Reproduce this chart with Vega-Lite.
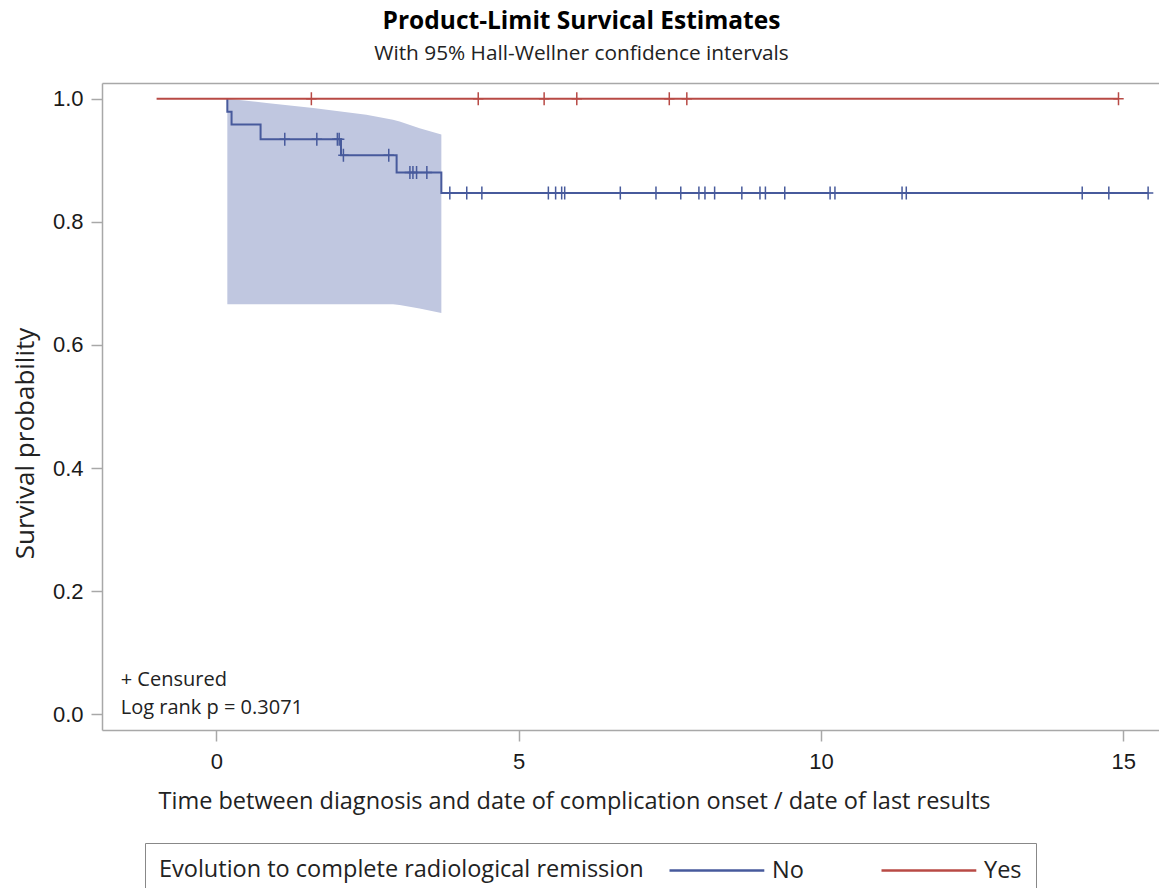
{
  "$schema": "https://vega.github.io/schema/vega-lite/v6.json",
  "width": 1057,
  "height": 647,
  "autosize": {"type": "none"},
  "padding": {"left": 102, "top": 83, "right": 0, "bottom": 158},
  "background": "white",
  "config": {"view": {"stroke": null}, "font": "Open Sans"},
  "title": {
    "text": "Product-Limit Survical Estimates",
    "subtitle": "With 95% Hall-Wellner confidence intervals",
    "anchor": "middle",
    "frame": "group",
    "dx": -49,
    "offset": 18.5,
    "font": "Open Sans",
    "fontSize": 24.5,
    "fontWeight": "bold",
    "color": "#000000",
    "subtitleFont": "Open Sans",
    "subtitleFontSize": 20.8,
    "subtitleColor": "#222222",
    "subtitlePadding": 9
  },
  "datasets": {
    "curves": [
      {"group": "No", "i": 0, "t": 0.18, "s": 1.0},
      {"group": "No", "i": 1, "t": 0.18, "s": 0.979},
      {"group": "No", "i": 2, "t": 0.25, "s": 0.958},
      {"group": "No", "i": 3, "t": 0.73, "s": 0.934},
      {"group": "No", "i": 4, "t": 2.06, "s": 0.908},
      {"group": "No", "i": 5, "t": 2.98, "s": 0.880},
      {"group": "No", "i": 6, "t": 3.72, "s": 0.847},
      {"group": "No", "i": 7, "t": 15.41, "s": 0.847},
      {"group": "Yes", "i": 0, "t": -0.99, "s": 1.0},
      {"group": "Yes", "i": 1, "t": 14.92, "s": 1.0}
    ],
    "censor": [
      {"group": "No", "t": 1.13, "s": 0.934},
      {"group": "No", "t": 1.66, "s": 0.934},
      {"group": "No", "t": 2.0, "s": 0.934},
      {"group": "No", "t": 2.03, "s": 0.934},
      {"group": "No", "t": 2.10, "s": 0.908},
      {"group": "No", "t": 2.85, "s": 0.908},
      {"group": "No", "t": 3.20, "s": 0.880},
      {"group": "No", "t": 3.25, "s": 0.880},
      {"group": "No", "t": 3.31, "s": 0.880},
      {"group": "No", "t": 3.48, "s": 0.880},
      {"group": "No", "t": 3.86, "s": 0.847},
      {"group": "No", "t": 4.14, "s": 0.847},
      {"group": "No", "t": 4.39, "s": 0.847},
      {"group": "No", "t": 5.49, "s": 0.847},
      {"group": "No", "t": 5.61, "s": 0.847},
      {"group": "No", "t": 5.71, "s": 0.847},
      {"group": "No", "t": 5.76, "s": 0.847},
      {"group": "No", "t": 6.68, "s": 0.847},
      {"group": "No", "t": 7.27, "s": 0.847},
      {"group": "No", "t": 7.68, "s": 0.847},
      {"group": "No", "t": 7.98, "s": 0.847},
      {"group": "No", "t": 8.08, "s": 0.847},
      {"group": "No", "t": 8.24, "s": 0.847},
      {"group": "No", "t": 8.69, "s": 0.847},
      {"group": "No", "t": 8.99, "s": 0.847},
      {"group": "No", "t": 9.08, "s": 0.847},
      {"group": "No", "t": 9.40, "s": 0.847},
      {"group": "No", "t": 10.15, "s": 0.847},
      {"group": "No", "t": 10.23, "s": 0.847},
      {"group": "No", "t": 11.34, "s": 0.847},
      {"group": "No", "t": 11.41, "s": 0.847},
      {"group": "No", "t": 14.32, "s": 0.847},
      {"group": "No", "t": 14.76, "s": 0.847},
      {"group": "No", "t": 15.41, "s": 0.847},
      {"group": "Yes", "t": 1.57, "s": 1.0},
      {"group": "Yes", "t": 4.33, "s": 1.0},
      {"group": "Yes", "t": 5.42, "s": 1.0},
      {"group": "Yes", "t": 5.96, "s": 1.0},
      {"group": "Yes", "t": 7.49, "s": 1.0},
      {"group": "Yes", "t": 7.78, "s": 1.0},
      {"group": "Yes", "t": 14.92, "s": 1.0}
    ],
    "band": [
      {"t": 0.18, "lo": 0.666, "hi": 1.0},
      {"t": 0.83, "lo": 0.666, "hi": 0.993},
      {"t": 1.60, "lo": 0.666, "hi": 0.985},
      {"t": 2.48, "lo": 0.666, "hi": 0.974},
      {"t": 2.92, "lo": 0.666, "hi": 0.966},
      {"t": 3.03, "lo": 0.665, "hi": 0.963},
      {"t": 3.36, "lo": 0.659, "hi": 0.952},
      {"t": 3.72, "lo": 0.652, "hi": 0.942}
    ],
    "notes": [
      {"t": -1.583, "s": 0.046, "label": "+ Censured"},
      {"t": -1.583, "s": 0.001, "label": "Log rank p = 0.3071"}
    ]
  },
  "layer": [
    {
      "data": {"name": "band"},
      "mark": {"type": "area", "color": "#C0C7E0", "opacity": 1},
      "encoding": {
        "x": {
          "field": "t", "type": "quantitative",
          "scale": {"domain": [-1.893, 15.59], "nice": false, "zero": false},
          "axis": {
            "orient": "bottom",
            "values": [0, 5, 10, 15],
            "format": "d",
            "grid": false,
            "ticks": true,
            "labelFlush": false,
            "title": "Time between diagnosis and date of complication onset / date of last results",
            "titleX": 472,
            "titleY": 78,
            "titleAlign": "center",
            "titleBaseline": "alphabetic",
            "titleFont": "Open Sans",
            "titleFontSize": 23.5,
            "titleFontWeight": "normal",
            "titleColor": "#222222",
            "titleLimit": 0,
            "labelFont": "Liberation Sans",
            "labelFontSize": 22,
            "labelColor": "#1A1A1A",
            "labelPadding": 10,
            "tickSize": 11,
            "tickWidth": 1.5,
            "tickColor": "#A8A8A8",
            "domainColor": "#A8A8A8",
            "domainWidth": 1.5
          }
        },
        "y": {
          "field": "lo", "type": "quantitative",
          "scale": {"domain": [-0.0255, 1.0255], "nice": false, "zero": false},
          "axis": {
            "orient": "left",
            "values": [0, 0.2, 0.4, 0.6, 0.8, 1.0],
            "format": ".1f",
            "grid": false,
            "ticks": true,
            "labelFlush": false,
            "title": "Survival probability",
            "titleX": -77,
            "titleY": 360,
            "titleAngle": 270,
            "titleAlign": "center",
            "titleBaseline": "middle",
            "titleFont": "Open Sans",
            "titleFontSize": 26,
            "titleFontWeight": "normal",
            "titleColor": "#222222",
            "titleLimit": 0,
            "labelFont": "Liberation Sans",
            "labelFontSize": 22,
            "labelColor": "#1A1A1A",
            "labelPadding": 8,
            "tickSize": 11,
            "tickWidth": 1.5,
            "tickColor": "#A8A8A8",
            "domainColor": "#A8A8A8",
            "domainWidth": 1.5
          }
        },
        "y2": {"field": "hi"}
      }
    },
    {
      "data": {"name": "curves"},
      "mark": {"type": "line", "interpolate": "step-after", "strokeWidth": 2},
      "encoding": {
        "x": {"field": "t", "type": "quantitative", "scale": {"domain": [-1.893, 15.59], "nice": false, "zero": false}, "axis": null},
        "y": {"field": "s", "type": "quantitative", "scale": {"domain": [-0.0255, 1.0255], "nice": false, "zero": false}, "axis": null},
        "order": {"field": "i", "type": "quantitative"},
        "color": {
          "field": "group", "type": "nominal",
          "scale": {"domain": ["No", "Yes"], "range": ["#475A9C", "#B84A45"]},
          "legend": {
            "orient": "none",
            "legendX": 43,
            "legendY": 760,
            "direction": "horizontal",
            "title": "Evolution to complete radiological remission",
            "titleOrient": "left",
            "titleFont": "Open Sans",
            "titleFontSize": 23.5,
            "titleFontWeight": "normal",
            "titleColor": "#222222",
            "titleLimit": 0,
            "titlePadding": 24,
            "labelFont": "Open Sans",
            "labelFontSize": 23.5,
            "labelColor": "#222222",
            "labelLimit": 0,
            "labelOffset": 77,
            "symbolType": "M-1,0L6.9,0",
            "symbolSize": 576,
            "symbolStrokeWidth": 2.5,
            "columnPadding": 72,
            "padding": 14,
            "strokeColor": "#888888",
            "fillColor": "white",
            "cornerRadius": 0
          }
        }
      }
    },
    {
      "data": {"name": "censor"},
      "mark": {"type": "point", "shape": "M0,-1L0,1M-0.8,0L0.8,0", "size": 169, "strokeWidth": 1.5, "filled": false, "opacity": 1},
      "encoding": {
        "x": {"field": "t", "type": "quantitative", "scale": {"domain": [-1.893, 15.59], "nice": false, "zero": false}, "axis": null},
        "y": {"field": "s", "type": "quantitative", "scale": {"domain": [-0.0255, 1.0255], "nice": false, "zero": false}, "axis": null},
        "stroke": {
          "field": "group", "type": "nominal",
          "scale": {"domain": ["No", "Yes"], "range": ["#475A9C", "#B84A45"]},
          "legend": null
        }
      }
    },
    {
      "data": {"name": "notes"},
      "mark": {"type": "text", "align": "left", "baseline": "alphabetic", "font": "Open Sans", "fontSize": 20, "color": "#222222"},
      "encoding": {
        "x": {
          "field": "t", "type": "quantitative",
          "scale": {"domain": [-1.893, 15.59], "nice": false, "zero": false},
          "axis": {"orient": "top", "labels": false, "ticks": false, "grid": false, "title": null, "domainColor": "#A8A8A8", "domainWidth": 1.5}
        },
        "y": {"field": "s", "type": "quantitative", "scale": {"domain": [-0.0255, 1.0255], "nice": false, "zero": false}, "axis": null},
        "text": {"field": "label"}
      }
    }
  ],
  "resolve": {"axis": {"x": "independent", "y": "independent"}}
}
